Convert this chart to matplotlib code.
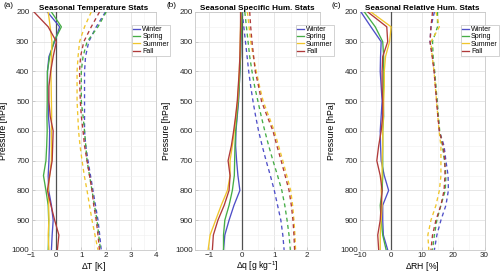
import matplotlib
matplotlib.use("Agg")
import matplotlib.pyplot as plt
from matplotlib.ticker import MultipleLocator

plt.rcParams['font.family'] = ['Liberation Sans', 'DejaVu Sans']
plt.rcParams['mathtext.fontset'] = 'custom'
plt.rcParams['mathtext.rm'] = 'Liberation Sans'

# pressure levels [hPa]
levels = [200, 250, 300, 350, 400, 450, 500, 550, 600, 650, 700, 750, 800, 850, 900, 950, 1000]
seasons = ['Winter', 'Spring', 'Summer', 'Fall']
colors = ['#4f4fc8', '#45ad45', '#f0c62c', '#b03a3a']

# (a) temperature: mean difference (solid) and spread (dashed)
t_mean = {
    'Winter': [-0.36, 0.13, -0.07, -0.30, -0.36, -0.35, -0.33, -0.32, -0.27, -0.28, -0.30, -0.33, -0.31, -0.20, -0.13, -0.17, -0.20],
    'Spring': [-0.20, 0.20, -0.10, -0.27, -0.36, -0.37, -0.37, -0.38, -0.37, -0.39, -0.42, -0.52, -0.42, -0.33, -0.31, -0.31, -0.33],
    'Summer': [-0.33, -0.25, -0.18, -0.20, -0.22, -0.21, -0.20, -0.19, -0.20, -0.20, -0.20, -0.27, -0.33, -0.31, -0.30, -0.33, -0.30],
    'Fall':   [-0.90, -0.33, 0.00, -0.13, -0.23, -0.30, -0.30, -0.25, -0.13, -0.15, -0.17, -0.27, -0.36, -0.22, -0.07, 0.10, 0.04],
}
t_sd = {
    'Winter': [1.97, 1.60, 1.30, 1.17, 1.13, 1.13, 1.13, 1.13, 1.13, 1.18, 1.27, 1.37, 1.47, 1.57, 1.67, 1.74, 1.80],
    'Spring': [2.00, 1.67, 1.23, 1.07, 1.00, 1.00, 1.00, 1.07, 1.13, 1.18, 1.23, 1.33, 1.43, 1.53, 1.63, 1.70, 1.77],
    'Summer': [1.40, 1.13, 0.93, 0.87, 0.83, 0.83, 0.83, 0.86, 0.89, 0.95, 1.03, 1.12, 1.23, 1.33, 1.43, 1.55, 1.67],
    'Fall':   [1.73, 1.40, 1.10, 0.97, 0.93, 0.94, 0.96, 1.00, 1.07, 1.13, 1.23, 1.33, 1.43, 1.50, 1.60, 1.67, 1.73],
}

# (b) specific humidity [g/kg]
q_mean = {
    'Winter': [0.00, -0.01, -0.02, -0.03, -0.05, -0.07, -0.09, -0.13, -0.17, -0.18, -0.15, -0.11, -0.05, -0.23, -0.38, -0.51, -0.55],
    'Spring': [0.01, 0.00, -0.02, -0.03, -0.05, -0.07, -0.10, -0.14, -0.18, -0.20, -0.21, -0.22, -0.28, -0.38, -0.51, -0.55, -0.55],
    'Summer': [-0.02, -0.03, -0.04, -0.05, -0.07, -0.09, -0.12, -0.17, -0.22, -0.28, -0.35, -0.35, -0.43, -0.62, -0.79, -0.96, -1.02],
    'Fall':   [-0.03, -0.03, -0.04, -0.05, -0.07, -0.10, -0.13, -0.18, -0.24, -0.31, -0.41, -0.35, -0.38, -0.53, -0.72, -0.86, -0.89],
}
q_sd = {
    'Winter': [0.02, 0.07, 0.12, 0.17, 0.22, 0.28, 0.35, 0.43, 0.52, 0.63, 0.75, 0.88, 1.00, 1.10, 1.20, 1.26, 1.30],
    'Spring': [0.10, 0.15, 0.20, 0.25, 0.32, 0.40, 0.50, 0.60, 0.71, 0.83, 0.96, 1.10, 1.23, 1.32, 1.39, 1.45, 1.49],
    'Summer': [0.18, 0.23, 0.28, 0.36, 0.45, 0.55, 0.66, 0.83, 1.00, 1.13, 1.26, 1.38, 1.50, 1.56, 1.60, 1.63, 1.65],
    'Fall':   [0.25, 0.28, 0.32, 0.37, 0.42, 0.52, 0.61, 0.78, 0.96, 1.08, 1.21, 1.33, 1.45, 1.52, 1.57, 1.60, 1.62],
}

# (c) relative humidity [%]
rh_mean = {
    'Winter': [-9.7, -6.5, -3.2, -3.4, -3.5, -3.2, -2.9, -3.2, -3.5, -3.4, -3.2, -2.2, -0.8, -2.7, -2.7, -2.5, -1.1],
    'Spring': [-8.6, -5.1, -2.7, -2.4, -2.4, -2.5, -2.5, -2.4, -2.7, -2.7, -2.7, -2.7, -2.9, -3.5, -3.2, -2.7, -1.6],
    'Summer': [-6.5, 0.0, -0.5, -1.8, -2.2, -2.2, -2.4, -2.5, -2.7, -2.7, -2.9, -2.9, -3.2, -2.9, -3.2, -3.5, -3.5],
    'Fall':   [-7.5, -1.4, -1.1, -2.7, -2.9, -2.9, -2.7, -2.7, -3.2, -4.0, -4.6, -3.5, -2.9, -3.2, -3.5, -4.3, -4.0],
}
rh_sd = {
    'Winter': [13.9, 12.8, 12.5, 13.3, 13.9, 14.3, 14.7, 15.1, 15.5, 17.0, 17.6, 18.3, 18.4, 17.6, 16.0, 14.7, 13.9],
    'Spring': [14.9, 14.9, 13.3, 13.5, 14.0, 14.4, 14.8, 15.2, 15.6, 16.5, 17.1, 17.6, 17.4, 16.0, 14.7, 13.9, 13.3],
    'Summer': [14.4, 15.5, 12.8, 13.2, 13.8, 14.2, 14.6, 15.0, 15.4, 16.0, 16.0, 16.0, 15.5, 14.4, 12.8, 11.8, 12.1],
    'Fall':   [13.3, 12.8, 12.5, 13.2, 13.8, 14.2, 14.6, 15.0, 15.5, 16.7, 17.3, 17.3, 17.0, 16.0, 14.4, 13.3, 12.8],
}

panels = [
    ('(a)', 'Seasonal Temperature Stats', r'$\Delta$T [K]', t_mean, t_sd, (-1, 4), 1, 0.5),
    ('(b)', 'Seasonal Specific Hum. Stats', r'$\Delta$q [g kg$^{-1}$]', q_mean, q_sd, (-1.42, 2.38), 1, 0.5),
    ('(c)', 'Seasonal Relative Hum. Stats', r'$\Delta$RH [%]', rh_mean, rh_sd, (-10, 30), 10, 5),
]
lefts = [0.063, 0.39, 0.72]

fig = plt.figure(figsize=(5.0, 2.78), dpi=100)
for left, (tag, title, xlab, mean, sd, xlim, major, minor) in zip(lefts, panels):
    ax = fig.add_axes([left, 0.101, 0.249, 0.856])
    ax.grid(True, which='major', color='#dcdcdc', lw=0.5)
    ax.grid(True, which='minor', color='#f0f0f0', lw=0.4)
    ax.set_axisbelow(True)
    ax.axvline(0, color='#505050', lw=0.9, zorder=3)
    for s, c in zip(seasons, colors):
        ax.plot(mean[s], levels, color=c, lw=0.95, label=s, zorder=4)
        ax.plot(sd[s], levels, color=c, lw=0.95, ls=(0, (3, 2.5)), zorder=4)
    ax.set_xlim(*xlim)
    ax.set_ylim(1000, 200)
    ax.xaxis.set_major_locator(MultipleLocator(major))
    ax.xaxis.set_minor_locator(MultipleLocator(minor))
    ax.yaxis.set_major_locator(MultipleLocator(100))
    ax.yaxis.set_minor_locator(MultipleLocator(50))
    ax.tick_params(which='both', direction='in', labelsize=5.8, colors='#bbbbbb',
                   labelcolor='#262626', length=2, width=0.5, pad=1.5)
    ax.tick_params(which='minor', length=0)
    for sp in ax.spines.values():
        sp.set_color('#c8c8c8')
        sp.set_linewidth(0.6)
    ax.set_title(title, fontsize=5.9, fontweight='bold', pad=1.5)
    ax.set_xlabel(xlab, fontsize=6.2, labelpad=0.5)
    ax.set_ylabel('Pressure [hPa]', fontsize=6.3)
    ax.yaxis.set_label_coords(-0.19, 0.5)
    ax.text(-0.225, 1.027, tag, transform=ax.transAxes, fontsize=5.8, va='center')
    leg = ax.legend(loc='upper left', bbox_to_anchor=(0.81, 0.945), fontsize=5,
                    handlelength=1.0, handletextpad=0.3, borderpad=0.15,
                    labelspacing=0.05, borderaxespad=0, fancybox=False, framealpha=1)
    leg.get_frame().set_edgecolor('#c0c0c0')
    leg.get_frame().set_linewidth(0.5)
    leg.set_zorder(6)

fig.savefig('out.png', dpi=100)
